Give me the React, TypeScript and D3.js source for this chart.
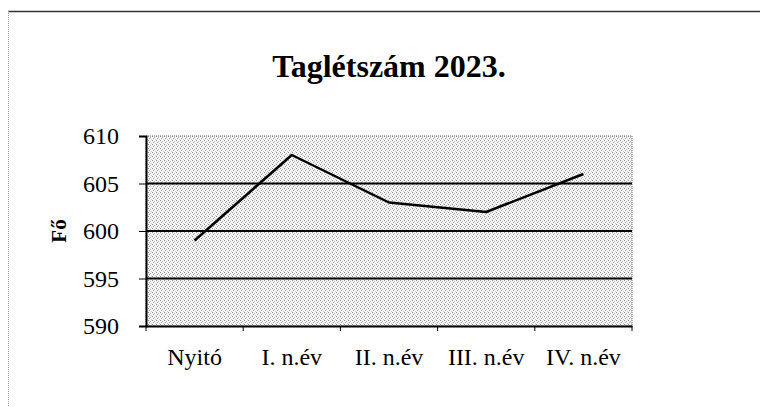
import React from 'react';
import * as d3 from 'd3';

// Chart data
const categories = ['Nyitó', 'I. n.év', 'II. n.év', 'III. n.év', 'IV. n.év'];
const values = [599, 608, 603, 602, 606];
const yTicks = [590, 595, 600, 605, 610];
const title = 'Taglétszám 2023.';
const yTitle = 'Fő';

const App = () => {
  const ref = React.useRef<SVGSVGElement>(null);

  React.useEffect(() => {
    const svg = d3.select(ref.current);
    svg.selectAll('*').remove();

    const width = 760;
    const height = 407;
    const left = 146;
    const right = 632;
    const top = 136;
    const bottom = 326;
    const font = 'Liberation Serif, Times New Roman, serif';

    const x = d3.scaleBand<string>().domain(categories).range([left, right]).padding(0);
    const y = d3.scaleLinear().domain([590, 610]).range([bottom, top]);

    svg.append('rect').attr('width', width).attr('height', height).attr('fill', '#fff');

    // Stipple pattern, to look like the scanned grey fill
    const pat = svg.append('defs').append('pattern')
      .attr('id', 'stip')
      .attr('width', 4).attr('height', 4)
      .attr('patternUnits', 'userSpaceOnUse');
    pat.append('rect').attr('width', 4).attr('height', 4).attr('fill', '#f6f6f6');
    [[0, 0, '#8a8a8a'], [2, 1, '#b4b4b4'], [1, 2, '#a0a0a0'], [3, 3, '#c8c8c8']]
      .forEach(([px, py, c]) => {
        pat.append('rect').attr('x', px).attr('y', py).attr('width', 1).attr('height', 1).attr('fill', c as string);
      });

    // Outer frame (top solid, left dotted)
    svg.append('line').attr('x1', 8).attr('x2', width).attr('y1', 11.5).attr('y2', 11.5)
      .attr('stroke', '#333').attr('stroke-width', 1.5);
    svg.append('line').attr('x1', 8.5).attr('x2', 8.5).attr('y1', 11).attr('y2', height)
      .attr('stroke', '#999').attr('stroke-width', 1).attr('stroke-dasharray', '1 1');

    // Title
    svg.append('text')
      .attr('x', 389).attr('y', 77)
      .attr('text-anchor', 'middle')
      .attr('font-family', font).attr('font-weight', 'bold').attr('font-size', 32)
      .text(title);

    // Plot area
    svg.append('rect')
      .attr('x', left).attr('y', top)
      .attr('width', right - left).attr('height', bottom - top)
      .attr('fill', 'url(#stip)')
      .attr('stroke', '#666').attr('stroke-width', 1).attr('stroke-dasharray', '1 1');

    // Gridlines
    svg.append('g')
      .selectAll('line')
      .data(yTicks.filter((d) => d !== 590 && d !== 610))
      .join('line')
      .attr('x1', left).attr('x2', right)
      .attr('y1', (d) => y(d)).attr('y2', (d) => y(d))
      .attr('stroke', '#000').attr('stroke-width', 2);

    // Y axis
    const yAxis = svg.append('g')
      .attr('transform', `translate(${left},0)`)
      .call(d3.axisLeft(y).tickValues(yTicks).tickSize(7).tickPadding(20))
      .attr('font-family', font).attr('font-size', 24);
    yAxis.select('.domain').attr('stroke', '#000').attr('stroke-width', 2);
    yAxis.selectAll('.tick line').attr('stroke', '#000').attr('stroke-width', 1);
    yAxis.selectAll('.tick text').attr('fill', '#000');

    // X axis
    const xAxis = svg.append('g')
      .attr('transform', `translate(0,${bottom})`)
      .call(d3.axisBottom(x).tickSize(0).tickPadding(22))
      .attr('font-family', font).attr('font-size', 24);
    xAxis.select('.domain').attr('stroke', '#000').attr('stroke-width', 2);
    xAxis.selectAll('.tick text').attr('fill', '#000');
    xAxis.append('g')
      .selectAll('line')
      .data(d3.range(categories.length + 1))
      .join('line')
      .attr('x1', (i) => left + i * x.bandwidth())
      .attr('x2', (i) => left + i * x.bandwidth())
      .attr('y1', 0).attr('y2', 5)
      .attr('stroke', '#000').attr('stroke-width', 1);

    // Y axis title
    svg.append('text')
      .attr('transform', `translate(66,231) rotate(-90)`)
      .attr('text-anchor', 'middle')
      .attr('font-family', font).attr('font-weight', 'bold').attr('font-size', 21)
      .text(yTitle);

    // Line
    const line = d3.line<number>()
      .x((_, i) => (x(categories[i]) as number) + x.bandwidth() / 2)
      .y((d) => y(d));
    svg.append('path')
      .datum(values)
      .attr('d', line)
      .attr('fill', 'none')
      .attr('stroke', '#000')
      .attr('stroke-width', 2.5)
      .attr('stroke-linejoin', 'round');
  }, []);

  return (
    <svg
      ref={ref}
      width={760}
      height={407}
      style={{ position: 'absolute', left: 0, top: 0, display: 'block' }}
    />
  );
};

export default App;
